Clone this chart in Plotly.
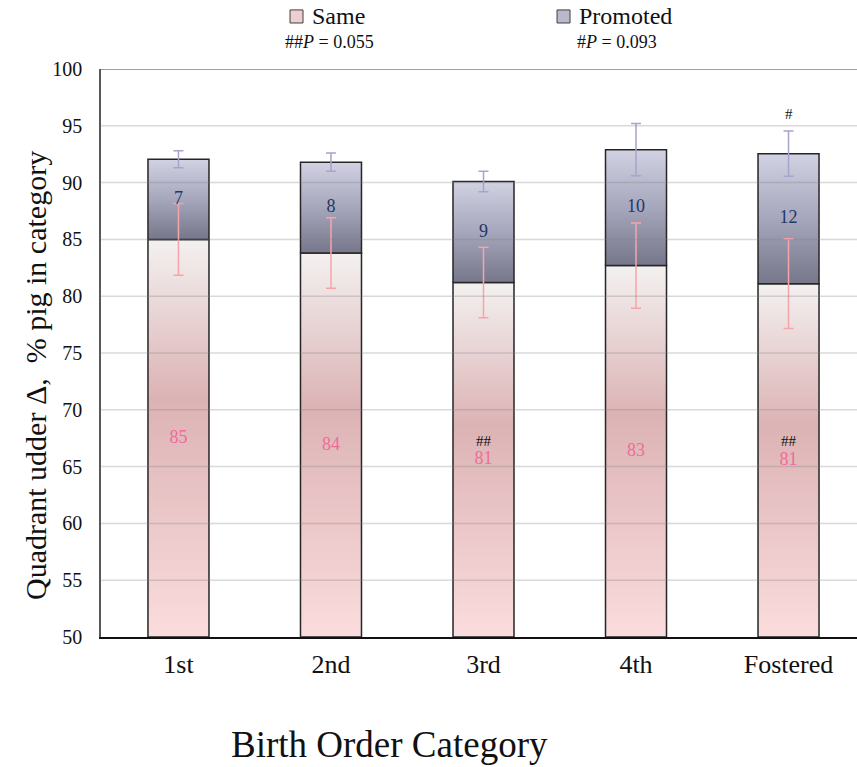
import plotly.graph_objects as go

categories = ["1st", "2nd", "3rd", "4th", "Fostered"]
same_values = [85.0, 83.8, 81.2, 82.7, 81.1]
promoted_values = [7.05, 8.0, 8.9, 10.2, 11.45]
same_errors = [3.15, 3.1, 3.1, 3.75, 3.95]
promoted_errors = [0.75, 0.8, 0.9, 2.3, 2.0]
same_labels = ["85", "84", "81", "83", "81"]
promoted_labels = ["7", "8", "9", "10", "12"]
same_marks = ["", "", "##", "", "##"]
promoted_marks = ["", "", "", "", "#"]
y_ticks = [50, 55, 60, 65, 70, 75, 80, 85, 90, 95, 100]
series_names = ["Same", "Promoted"]
p_texts = ["##<i>P</i> = 0.055", "#<i>P</i> = 0.093"]

FONT = "Liberation Serif"
Y_MIN, Y_MAX = 50, 100
HALF_W = 0.2
OUTLINE = "#262626"

same_scale = [[0.0, "#fbdcdd"], [0.6, "#dcb3b5"], [1.0, "#f3f1f0"]]
prom_scale = [[0.0, "#77778b"], [0.5, "#a6a6bc"], [1.0, "#d2d2e4"]]

fig = go.Figure()
xs = list(range(len(categories)))

for i, (s, p) in enumerate(zip(same_values, promoted_values)):
    rx = [i - HALF_W, i + HALF_W, i + HALF_W, i - HALF_W, i - HALF_W]
    fig.add_trace(go.Scatter(
        x=rx, y=[Y_MIN, Y_MIN, s, s, Y_MIN], mode="lines", fill="toself",
        fillgradient=dict(type="vertical", colorscale=same_scale, start=Y_MIN, stop=s),
        line=dict(color=OUTLINE, width=1.5), hoverinfo="skip", showlegend=False))
    fig.add_trace(go.Scatter(
        x=rx, y=[s, s, s + p, s + p, s], mode="lines", fill="toself",
        fillgradient=dict(type="vertical", colorscale=prom_scale, start=s, stop=s + p),
        line=dict(color=OUTLINE, width=1.5), hoverinfo="skip", showlegend=False))

tops = [s + p for s, p in zip(same_values, promoted_values)]

# error bars
fig.add_trace(go.Scatter(
    x=xs, y=same_values, mode="markers", marker=dict(size=1, opacity=0),
    error_y=dict(type="data", array=same_errors, color="#f5a5aa", thickness=1.5, width=5),
    hoverinfo="skip", showlegend=False))
fig.add_trace(go.Scatter(
    x=xs, y=tops, mode="markers", marker=dict(size=1, opacity=0),
    error_y=dict(type="data", array=promoted_errors, color="#a4a4cc", thickness=1.5, width=5),
    hoverinfo="skip", showlegend=False))

# value labels
fig.add_trace(go.Scatter(
    x=xs, y=[(Y_MIN + s) / 2 for s in same_values], mode="text", text=same_labels,
    textfont=dict(family=FONT, size=18, color="#f06b9b"), hoverinfo="skip", showlegend=False))
fig.add_trace(go.Scatter(
    x=xs, y=[s + p / 2 for s, p in zip(same_values, promoted_values)], mode="text",
    text=promoted_labels, textfont=dict(family=FONT, size=18, color="#1f3864"),
    hoverinfo="skip", showlegend=False))

annotations = []
for i, (s, m) in enumerate(zip(same_values, same_marks)):
    if m:
        annotations.append(dict(x=i, y=(Y_MIN + s) / 2, xref="x", yref="y", text=m,
                                showarrow=False, yshift=19,
                                font=dict(family=FONT, size=15, color="#111111")))
for i, (t, e, m) in enumerate(zip(tops, promoted_errors, promoted_marks)):
    if m:
        annotations.append(dict(x=i, y=t + e, xref="x", yref="y", text=m,
                                showarrow=False, yshift=17,
                                font=dict(family=FONT, size=15, color="#111111")))

# axis titles
annotations.append(dict(text="Quadrant udder Δ,\u00a0 % pig in category", textangle=-90,
                        x=-0.0873, y=0.4595, xref="paper", yref="paper", showarrow=False,
                        xanchor="center", yanchor="middle",
                        font=dict(family=FONT, size=30, color="#111111")))
annotations.append(dict(text="Birth Order Category", x=0.382, y=-0.19, xref="paper",
                        yref="paper", showarrow=False, xanchor="center", yanchor="middle",
                        font=dict(family=FONT, size=37, color="#111111")))

# legend (manual)
legend_x = [0.25, 0.6032]
legend_fill = ["#eecfd0", "#b9b9ce"]
p_x = [0.3029, 0.6825]
shapes = []
for lx, col, name, px, pt in zip(legend_x, legend_fill, series_names, p_x, p_texts):
    shapes.append(dict(type="rect", xref="paper", yref="paper", x0=lx, x1=lx + 0.0172,
                       y0=1.081, y1=1.104, fillcolor=col, line=dict(color="#404040", width=1)))
    annotations.append(dict(text=name, x=lx + 0.0265, y=1.0925, xref="paper", yref="paper",
                            xanchor="left", yanchor="middle", showarrow=False,
                            font=dict(family=FONT, size=24, color="#111111")))
    annotations.append(dict(text=pt, x=px, y=1.0475, xref="paper", yref="paper",
                            xanchor="center", yanchor="middle",
                            showarrow=False, font=dict(family=FONT, size=18, color="#111111")))

# gridlines drawn above the bars (as in reference)
for t in y_ticks[1:-1]:
    shapes.append(dict(type="line", xref="paper", yref="y", x0=0, x1=1, y0=t, y1=t,
                       layer="above", line=dict(color="rgba(128,128,128,0.3)", width=1.5)))
shapes.append(dict(type="line", xref="paper", yref="y", x0=0, x1=1, y0=Y_MAX, y1=Y_MAX,
                   layer="above", line=dict(color="#808080", width=1.5)))

fig.update_layout(
    width=857, height=767,
    margin=dict(l=101, r=0, t=69, b=130, autoexpand=False),
    plot_bgcolor="white", paper_bgcolor="white",
    showlegend=False,
    font=dict(family=FONT, color="#111111"),
    annotations=annotations, shapes=shapes,
    xaxis=dict(range=[-0.508, 4.449], tickvals=xs, ticktext=categories,
               tickfont=dict(family=FONT, size=26, color="#111111"),
               ticks="outside", ticklen=3, tickcolor="rgba(0,0,0,0)",
               showline=True, linecolor="#111111", linewidth=1.5,
               showgrid=False, zeroline=False, automargin=False),
    yaxis=dict(range=[Y_MIN, Y_MAX], tickvals=y_ticks,
               tickfont=dict(family=FONT, size=20, color="#111111"),
               ticks="outside", ticklen=13, tickcolor="rgba(0,0,0,0)",
               showline=True, linecolor="#595959", linewidth=1.5,
               showgrid=False, zeroline=False, automargin=False),
)

fig.write_html("out.html", config={"displayModeBar": False},
               post_script="document.body.style.margin='0';document.body.style.overflow='hidden';")
